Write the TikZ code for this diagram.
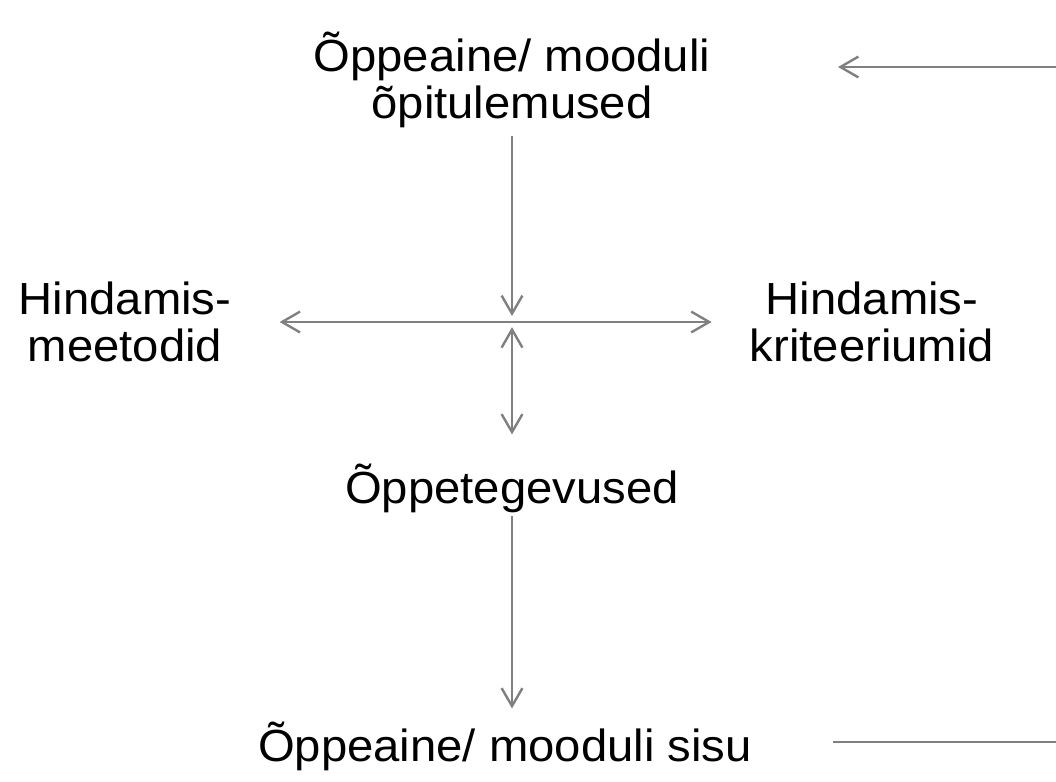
\documentclass[tikz,border=0pt]{standalone}
\usepackage{fontspec}
\setmainfont[FakeStretch=1.05]{Liberation Sans}
\usetikzlibrary{arrows.meta}

\definecolor{linegray}{HTML}{808080}

\begin{document}
\begin{tikzpicture}[x=0.025cm, y=-0.025cm,
  lbl/.style={align=center, inner sep=0pt, font=\fontsize{32}{34}\selectfont},
  plain/.style={line width=1.7pt, draw=linegray},
  conn/.style={plain, -{Straight Barb[length=4.5mm, width=5.2mm]}},
  both/.style={plain, {Straight Barb[length=4.5mm, width=5.2mm]}-{Straight Barb[length=4.5mm, width=5.2mm]}}]
  \useasboundingbox (0,0) rectangle (1056,781);

  \node[lbl] (goals) at (512,80) {Õppeaine/ mooduli\\õpitulemused};
  \node[lbl] (methods) at (125,322) {Hindamis-\\meetodid};
  \node[lbl] (criteria) at (872,322) {Hindamis-\\kriteeriumid};
  \node[lbl] (activities) at (512,488) {Õppetegevused};
  \node[lbl] (content) at (505,746) {Õppeaine/ mooduli sisu};

  \coordinate (hub) at (512,322);
  \coordinate (loopin) at (1056,67);
  \coordinate (looptip) at (838,67);
  \coordinate (loopstart) at (833,742);
  \coordinate (loopout) at (1056,742);

  % main chain
  \draw[conn, shorten <=0.18cm, shorten >=0.15cm] (goals) -- (hub);
  \draw[conn, shorten >=1.2cm] (hub) -- (methods);
  \draw[conn, shorten >=0.95cm] (hub) -- (criteria);
  \draw[both, shorten <=0.13cm, shorten >=0.72cm] (hub) -- (activities);
  \draw[conn, shorten <=0.08cm, shorten >=0.32cm] (activities) -- (activities |- content.north);

  % loop back, cut at the edge
  \draw[conn] (loopin) -- (looptip);
  \draw[plain] (loopstart) -- (loopout);
\end{tikzpicture}
\end{document}
